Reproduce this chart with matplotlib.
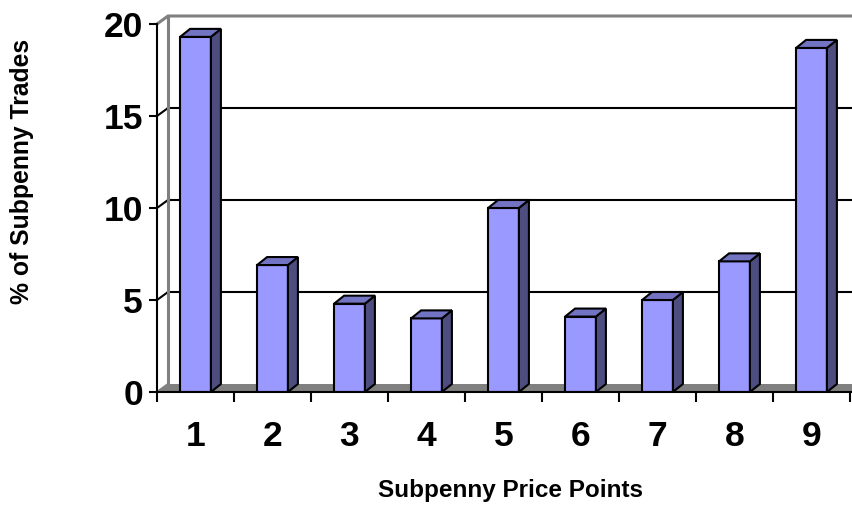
import matplotlib.pyplot as plt
from matplotlib.patches import Polygon

plt.rcParams['font.family'] = ['Liberation Sans', 'DejaVu Sans']

# subpenny price points and share of trades (%)
price_points = [1, 2, 3, 4, 5, 6, 7, 8, 9]
pct_trades = [19.3, 6.9, 4.8, 4.0, 10.0, 4.1, 5.0, 7.1, 18.7]
y_ticks = [0, 5, 10, 15, 20]

front = '#9999FF'
side = '#4D4D80'
top = '#7373C4'
grey = '#808080'

fig = plt.figure(figsize=(8.53, 5.08), dpi=100)
ax = fig.add_axes([157 / 853, 116 / 508, 696 / 853, 368 / 508])
xmax = 0.5 + 696 / 77
ax.set_xlim(0.5, xmax)
ax.set_ylim(0, 20)

# depth of the "3d" walls and bars, in data units
wdx, wdy = 0.143, 0.435
bdx, bdy = 0.13, 0.435

# back wall, floor and left wall lines
ax.add_patch(Polygon([(0.5 + wdx, wdy), (xmax + wdx, wdy), (xmax + wdx, 20 + wdy), (0.5 + wdx, 20 + wdy)],
                     closed=True, facecolor='white', edgecolor='none', clip_on=False, zorder=0))
ax.add_patch(Polygon([(0.5, 0), (xmax + wdx, 0), (xmax + wdx, wdy), (0.5 + wdx, wdy)],
                     closed=True, facecolor=grey, edgecolor='none', clip_on=False, zorder=1))
for v in y_ticks[1:-1]:
    ax.plot([0.5 + wdx, xmax + wdx], [v + wdy, v + wdy], color='black', lw=1.5, clip_on=False, zorder=1)
    ax.plot([0.5, 0.5 + wdx], [v, v + wdy], color='black', lw=1.5, clip_on=False, zorder=1)
ax.plot([0.5, 0.5 + wdx, xmax + wdx], [20, 20 + wdy, 20 + wdy], color=grey, lw=2.2, clip_on=False, zorder=1)
ax.plot([0.5 + wdx, 0.5 + wdx], [wdy, 20 + wdy], color=grey, lw=2.2, clip_on=False, zorder=1)
ax.plot([0.5, 0.5 + wdx], [0, wdy], color=grey, lw=1.5, clip_on=False, zorder=1)

# bars: front face via ax.bar, side and top faces as polygons
w = 0.4
ax.bar(price_points, pct_trades, width=w, color=front, edgecolor='black', linewidth=1.5, zorder=3)
for x, v in zip(price_points, pct_trades):
    l, r = x - w / 2, x + w / 2
    ax.add_patch(Polygon([(r, 0), (r, v), (r + bdx, v + bdy), (r + bdx, bdy)],
                         closed=True, facecolor=side, edgecolor='black', lw=1.5, zorder=3))
    ax.add_patch(Polygon([(l, v), (r, v), (r + bdx, v + bdy), (l + bdx, v + bdy)],
                         closed=True, facecolor=top, edgecolor='black', lw=1.5, zorder=3))

for s in ['top', 'right']:
    ax.spines[s].set_visible(False)
ax.spines['left'].set_linewidth(1.5)
ax.spines['bottom'].set_linewidth(1.5)
ax.spines['left'].set_zorder(4)
ax.spines['bottom'].set_zorder(4)

ax.set_yticks(y_ticks)
ax.set_yticklabels([str(t) for t in y_ticks], fontsize=25.5, fontweight='bold')
ax.tick_params(axis='y', length=6, width=1.5, pad=4)

ax.set_xticks([i + 0.5 for i in range(0, 10)])
ax.set_xticklabels([])
ax.set_xticks(price_points, minor=True)
ax.set_xticklabels([str(p) for p in price_points], minor=True, fontsize=25.5, fontweight='bold')
ax.tick_params(axis='x', which='major', length=7, width=1.5)
ax.tick_params(axis='x', which='minor', length=0, pad=20)

ax.set_xlabel('Subpenny Price Points', fontsize=17.5, fontweight='bold', va='center')
ax.xaxis.set_label_coords((511 - 157) / 696, (392 - 490) / 368)
ax.set_ylabel('% of Subpenny Trades', fontsize=17.8, fontweight='bold', va='center', ha='center')
ax.yaxis.set_label_coords((22 - 157) / 696, (392 - 171) / 368)

fig.savefig('out.png', dpi=100)
